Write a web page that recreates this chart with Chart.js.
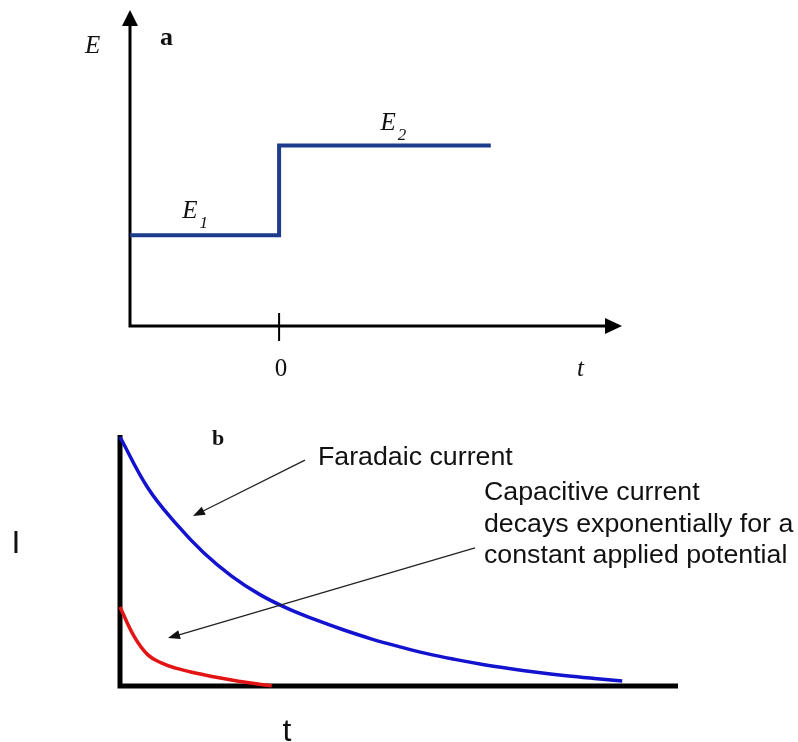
<!DOCTYPE html>
<html>
<head>
<meta charset="utf-8">
<title>Potential step and current transients</title>
<script src="https://cdn.jsdelivr.net/npm/chart.js@4.4.1/dist/chart.umd.min.js"></script>
<style>
  html, body { margin: 0; padding: 0; background: #fff; }
  #wrap { position: relative; width: 798px; height: 742px; overflow: hidden; }
  #wrap canvas { position: absolute; left: 0; }
  #stepChart { top: 0; }
  #decayChart { top: 400px; }
</style>
</head>
<body>
<div id="wrap">
  <canvas id="stepChart" width="798" height="400"></canvas>
  <canvas id="decayChart" width="798" height="342"></canvas>
</div>
<script>
// (a) applied potential: E1 before t = 0, E2 after
const stepTimes = [-1, 0, 0, 1.42];
const stepPotential = [0.287, 0.287, 0.571, 0.571];
const stepTicks = [0];

// (b) current after the step
const faradaicTimes = [0, 0.5, 1, 1.5, 2, 2.5, 3, 3.5, 4, 4.5, 5, 5.5, 6, 6.5, 7, 7.5, 8, 8.5, 9];
const faradaicCurrent = [0.992, 0.789, 0.648, 0.531, 0.438, 0.365, 0.309, 0.264, 0.224, 0.188, 0.157, 0.129, 0.106, 0.086, 0.069, 0.054, 0.041, 0.030, 0.020];
const capacitiveTimes = [0, 0.25, 0.5, 0.75, 1, 1.25, 1.5, 1.75, 2, 2.25, 2.5, 2.72];
const capacitiveCurrent = [0.315, 0.199, 0.124, 0.091, 0.071, 0.057, 0.045, 0.034, 0.024, 0.015, 0.007, 0.001];

const SERIF = '"Liberation Serif", "Times New Roman", serif';
const SANS = '"Liberation Sans", Arial, sans-serif';

function toPoints(xs, ys) {
    return xs.map((x, i) => ({ x: x, y: ys[i] }));
}

function arrowHead(ctx, tipX, tipY, angle, len, half) {
    ctx.save();
    ctx.translate(tipX, tipY);
    ctx.rotate(angle);
    ctx.beginPath();
    ctx.moveTo(0, 0);
    ctx.lineTo(-len, -half);
    ctx.lineTo(-len, half);
    ctx.closePath();
    ctx.fill();
    ctx.restore();
}

// E with a small italic subscript
function subscriptLabel(ctx, x, y, sub) {
    ctx.font = 'italic 25px ' + SERIF;
    ctx.fillText('E', x, y);
    const w = ctx.measureText('E').width;
    ctx.font = 'italic 17px ' + SERIF;
    ctx.fillText(sub, x + w + 2, y + 10);
}

function stretchedText(ctx, text, x, y) {
    ctx.save();
    ctx.translate(x, y);
    ctx.scale(1.07, 1);
    ctx.fillText(text, 0, 0);
    ctx.restore();
}

const stepAxes = {
    id: 'stepAxes',
    beforeDatasetsDraw(chart) {
        const { ctx, chartArea: a, scales: { x } } = chart;
        ctx.save();
        ctx.strokeStyle = '#000';
        ctx.fillStyle = '#000';
        ctx.lineWidth = 3;
        ctx.beginPath();
        ctx.moveTo(a.left, a.bottom + 1.5);
        ctx.lineTo(a.left, a.top + 12);
        ctx.moveTo(a.left - 1.5, a.bottom);
        ctx.lineTo(a.right - 12, a.bottom);
        ctx.stroke();
        arrowHead(ctx, a.left, a.top, -Math.PI / 2, 16, 8);
        arrowHead(ctx, a.right, a.bottom, 0, 17, 8);

        ctx.lineWidth = 2;
        stepTicks.forEach(t => {
            const px = x.getPixelForValue(t);
            ctx.beginPath();
            ctx.moveTo(px, a.bottom - 13);
            ctx.lineTo(px, a.bottom + 15);
            ctx.stroke();
        });
        ctx.restore();
    },
    afterDatasetsDraw(chart) {
        const { ctx, chartArea: a, scales: { x, y } } = chart;
        ctx.save();
        ctx.fillStyle = '#111';
        ctx.textBaseline = 'alphabetic';

        ctx.font = 'italic 25px ' + SERIF;
        ctx.fillText('E', a.left - 45, a.top + 43);
        ctx.font = 'bold 26px ' + SERIF;
        ctx.fillText('a', a.left + 30, a.top + 35);

        ctx.font = '25px ' + SERIF;
        ctx.textAlign = 'center';
        stepTicks.forEach(t => ctx.fillText(String(t), x.getPixelForValue(t) + 2, a.bottom + 50));
        ctx.textAlign = 'left';
        ctx.font = 'italic 25px ' + SERIF;
        ctx.fillText('t', a.right - 45, a.bottom + 50);

        subscriptLabel(ctx, x.getPixelForValue(-0.65), y.getPixelForValue(stepPotential[0]) - 17, '1');
        subscriptLabel(ctx, x.getPixelForValue(0.68), y.getPixelForValue(stepPotential[2]) - 16, '2');
        ctx.restore();
    }
};

const decayAxes = {
    id: 'decayAxes',
    beforeDatasetsDraw(chart) {
        const { ctx, chartArea: a } = chart;
        ctx.save();
        ctx.strokeStyle = '#000';
        ctx.lineWidth = 5;
        ctx.lineCap = 'butt';
        ctx.beginPath();
        ctx.moveTo(a.left, a.top);
        ctx.lineTo(a.left, a.bottom + 2.5);
        ctx.moveTo(a.left - 2.5, a.bottom);
        ctx.lineTo(a.right, a.bottom);
        ctx.stroke();
        ctx.restore();
    },
    afterDatasetsDraw(chart) {
        const { ctx, chartArea: a, scales: { x, y } } = chart;
        ctx.save();
        ctx.fillStyle = '#111';
        ctx.strokeStyle = '#222';
        ctx.lineWidth = 1.3;

        // pointer arrows from the notes to the curves
        const pointers = [
            [3.315, 0.900, 1.308, 0.677],
            [6.362, 0.550, 0.860, 0.191]
        ];
        pointers.forEach(([t0, i0, t1, i1]) => {
            const x0 = x.getPixelForValue(t0), y0 = y.getPixelForValue(i0);
            const x1 = x.getPixelForValue(t1), y1 = y.getPixelForValue(i1);
            const ang = Math.atan2(y1 - y0, x1 - x0);
            ctx.beginPath();
            ctx.moveTo(x0, y0);
            ctx.lineTo(x1 - Math.cos(ang) * 8, y1 - Math.sin(ang) * 8);
            ctx.stroke();
            arrowHead(ctx, x1, y1, ang, 12, 4.5);
        });

        ctx.font = '25px ' + SANS;
        ctx.textAlign = 'left';
        stretchedText(ctx, 'Faradaic current', x.getPixelForValue(3.548), y.getPixelForValue(0.880));
        const capX = x.getPixelForValue(6.523);
        const capY = y.getPixelForValue(0.741);
        ['Capacitive current', 'decays exponentially for a', 'constant applied potential']
            .forEach((line, k) => stretchedText(ctx, line, capX, capY + k * 31.5));

        ctx.font = 'bold 22px ' + SERIF;
        ctx.fillText('b', a.left + 92, a.top + 10);

        ctx.font = '32px ' + SANS;
        ctx.textAlign = 'center';
        ctx.fillText('I', 16, a.top + 118);
        ctx.fillText('t', 287, a.bottom + 55);
        ctx.restore();
    }
};

const baseOptions = {
    responsive: false,
    animation: false,
    events: [],
    plugins: {
        legend: { display: false },
        tooltip: { enabled: false }
    }
};

new Chart(document.getElementById('stepChart'), {
    type: 'scatter',
    data: {
        datasets: [{
            data: toPoints(stepTimes, stepPotential),
            showLine: true,
            borderColor: '#1d3c8b',
            borderWidth: 4,
            borderJoinStyle: 'miter',
            pointRadius: 0,
            clip: false
        }]
    },
    options: Object.assign({}, baseOptions, {
        layout: { padding: { left: 130, right: 176, top: 10, bottom: 74 } },
        scales: {
            x: { type: 'linear', display: false, min: -1, max: 2.3 },
            y: { type: 'linear', display: false, min: 0, max: 1 }
        }
    }),
    plugins: [stepAxes]
});

new Chart(document.getElementById('decayChart'), {
    type: 'scatter',
    data: {
        datasets: [{
            label: 'Faradaic current',
            data: toPoints(faradaicTimes, faradaicCurrent),
            showLine: true,
            borderColor: '#1212cf',
            borderWidth: 3.5,
            tension: 0.4,
            pointRadius: 0,
            clip: false
        }, {
            label: 'Capacitive current',
            data: toPoints(capacitiveTimes, capacitiveCurrent),
            showLine: true,
            borderColor: '#e31414',
            borderWidth: 3.5,
            tension: 0.4,
            pointRadius: 0,
            clip: false
        }]
    },
    options: Object.assign({}, baseOptions, {
        layout: { padding: { left: 120, right: 120, top: 35, bottom: 56 } },
        scales: {
            x: { type: 'linear', display: false, min: 0, max: 10 },
            y: { type: 'linear', display: false, min: 0, max: 1 }
        }
    }),
    plugins: [decayAxes]
});
</script>
</body>
</html>
